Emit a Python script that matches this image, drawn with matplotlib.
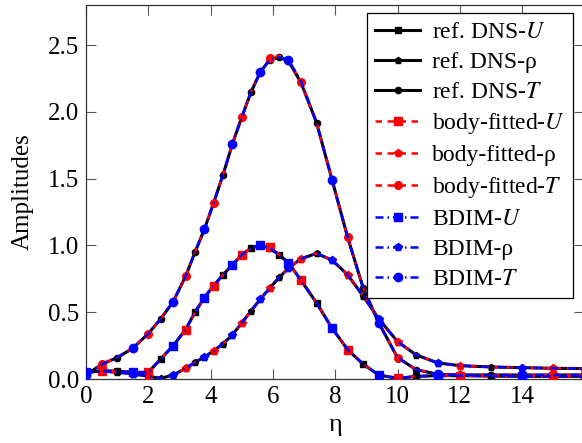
import numpy as np
import matplotlib as mpl
mpl.use('Agg')
import matplotlib.pyplot as plt

plt.rcParams['font.family'] = ['Liberation Serif', 'DejaVu Serif']
plt.rcParams['mathtext.fontset'] = 'stix'

# wall-normal coordinate
eta = [0.0, 0.5, 1.0, 1.5, 2.0, 2.4, 2.8, 3.2, 3.5, 3.8, 4.1, 4.4, 4.7, 5.0,
       5.3, 5.6, 5.9, 6.2, 6.5, 6.9, 7.4, 7.9, 8.4, 8.9, 9.4, 10.0, 10.6,
       11.3, 12.0, 13.0, 14.0, 15.0, 16.0]

# reference DNS
u_dns = [0.05, 0.06, 0.06, 0.05, 0.05, 0.15, 0.25, 0.37, 0.50, 0.61, 0.70,
         0.78, 0.855, 0.93, 0.98, 1.00, 0.98, 0.93, 0.87, 0.74, 0.57, 0.38,
         0.22, 0.11, 0.03, 0.005, 0.02, 0.025, 0.025, 0.022, 0.02, 0.02, 0.02]
rho_dns = [0.05, 0.06, 0.05, 0.04, 0.02, 0.005, 0.03, 0.08, 0.125, 0.165,
           0.21, 0.265, 0.33, 0.42, 0.51, 0.60, 0.68, 0.76, 0.83, 0.90, 0.94,
           0.89, 0.78, 0.62, 0.45, 0.28, 0.18, 0.12, 0.10, 0.09, 0.085, 0.08,
           0.078]
t_dns = [0.03, 0.11, 0.16, 0.23, 0.34, 0.45, 0.58, 0.77, 0.95, 1.12, 1.32,
         1.53, 1.76, 1.96, 2.15, 2.30, 2.39, 2.41, 2.38, 2.22, 1.92, 1.49,
         1.06, 0.68, 0.42, 0.16, 0.07, 0.035, 0.03, 0.03, 0.03, 0.03, 0.03]

# body-fitted
u_bf = [0.05, 0.06, 0.06, 0.05, 0.05, 0.15, 0.25, 0.37, 0.50, 0.61, 0.70,
        0.78, 0.855, 0.93, 0.98, 1.00, 0.985, 0.93, 0.87, 0.74, 0.57, 0.38,
        0.22, 0.11, 0.03, 0.005, 0.02, 0.025, 0.025, 0.022, 0.02, 0.02, 0.02]
rho_bf = [0.05, 0.06, 0.05, 0.04, 0.02, 0.005, 0.03, 0.08, 0.125, 0.165,
          0.21, 0.265, 0.33, 0.42, 0.51, 0.60, 0.68, 0.76, 0.83, 0.90, 0.94,
          0.89, 0.78, 0.62, 0.45, 0.28, 0.18, 0.12, 0.10, 0.09, 0.085, 0.08,
          0.078]
t_bf = [0.03, 0.11, 0.16, 0.23, 0.34, 0.45, 0.58, 0.77, 0.95, 1.12, 1.32,
        1.53, 1.76, 1.96, 2.15, 2.30, 2.40, 2.42, 2.39, 2.22, 1.92, 1.49,
        1.06, 0.68, 0.42, 0.16, 0.07, 0.035, 0.03, 0.03, 0.03, 0.03, 0.03]

# BDIM
u_bdim = [0.05, 0.06, 0.06, 0.05, 0.05, 0.15, 0.25, 0.37, 0.50, 0.61, 0.70,
          0.78, 0.855, 0.93, 0.98, 1.00, 0.98, 0.93, 0.87, 0.74, 0.57, 0.38,
          0.22, 0.11, 0.03, 0.005, 0.02, 0.025, 0.025, 0.022, 0.02, 0.02, 0.02]
rho_bdim = [0.05, 0.06, 0.05, 0.04, 0.02, 0.005, 0.03, 0.08, 0.125, 0.165,
            0.21, 0.265, 0.33, 0.42, 0.51, 0.60, 0.68, 0.76, 0.83, 0.90, 0.94,
            0.89, 0.78, 0.62, 0.45, 0.28, 0.18, 0.12, 0.10, 0.09, 0.085, 0.08,
            0.078]
t_bdim = [0.03, 0.11, 0.16, 0.23, 0.34, 0.45, 0.58, 0.77, 0.95, 1.12, 1.32,
          1.53, 1.76, 1.96, 2.15, 2.30, 2.39, 2.41, 2.39, 2.23, 1.92, 1.49,
          1.06, 0.68, 0.42, 0.16, 0.07, 0.035, 0.03, 0.03, 0.03, 0.03, 0.03]

xticks = [0, 2, 4, 6, 8, 10, 12, 14]
yticks = [0.0, 0.5, 1.0, 1.5, 2.0, 2.5]

W, H = 582, 443
fig = plt.figure(figsize=(W / 100., H / 100.), dpi=100)
x0, x1, y0, y1 = 86, 584.4, 5, 379
ax = fig.add_axes([x0 / W, 1 - y1 / H, (x1 - x0) / W, (y1 - y0) / H])

series = [
    ('ref. DNS', 'black', '-', 2.2, 4.5, slice(None), [u_dns, rho_dns, t_dns]),
    ('body-fitted', 'red', (0, (2.6, 2.2)), 1.8, 5.5, slice(1, None, 3),
     [u_bf, rho_bf, t_bf]),
    ('BDIM', 'blue', (0, (3.2, 1.6, 0.6, 1.6)), 1.8, 6.0, slice(0, None, 3),
     [u_bdim, rho_bdim, t_bdim]),
]
names = ['-$U$', '-ρ', '-$T$']
marks = ['s', 'p', 'o']

for z, (lab, col, ls, lw, ms, every, vals) in enumerate(series):
    for name, mk, v in zip(names, marks, vals):
        ax.plot(eta, v, color=col, linestyle=ls, lw=lw, marker=mk,
                markersize=ms, markevery=every, mec=col, mfc=col,
                label=lab + name, zorder=2 + z)

ax.set_xlim(0, 16)
ax.set_ylim(0, 2.8)
ax.set_xticks(xticks)
ax.set_yticks(yticks)
ax.set_yticklabels(['%.1f' % t for t in yticks])
ax.tick_params(direction='in', length=7, width=0.8, color='#555555',
               top=True, right=True, labelsize=18, pad=5)
for sp in ax.spines.values():
    sp.set_linewidth(0.9)
    sp.set_color('#333333')

ax.set_xlabel('η', fontsize=19, labelpad=4)
ax.set_ylabel('Amplitudes', fontsize=18, labelpad=10)

leg = ax.legend(loc='upper right', bbox_to_anchor=(0.9777, 0.9786),
                fontsize=17, numpoints=1, handlelength=1.9,
                handletextpad=0.5, labelspacing=0.36, borderpad=0.35,
                borderaxespad=0, fancybox=False, framealpha=1,
                edgecolor='black')
leg.get_frame().set_linewidth(0.9)

fig.savefig('out.png', dpi=100)
